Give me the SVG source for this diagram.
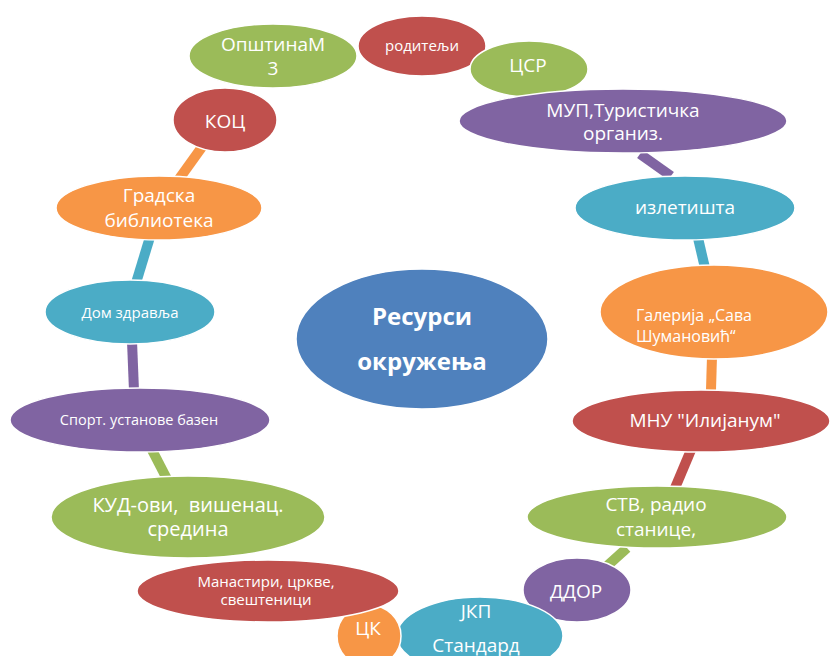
<svg xmlns="http://www.w3.org/2000/svg" width="830" height="656" viewBox="0 0 830 656">
<style>
.n ellipse{stroke:#fff;stroke-width:1.5}
.g{fill:#9BBB59}.r{fill:#C0504D}.c{fill:#4BACC6}.o{fill:#F79646}.p{fill:#8064A2}.b{fill:#4F81BD}
text{font-family:"Open Sans","Noto Sans",sans-serif;fill:#fff;text-anchor:middle}
.l{font-size:19px}.s{font-size:15px}.h{font-size:24px;font-weight:bold}
#connectors line{stroke-width:10;stroke-linecap:butt}
</style>
<rect width="830" height="656" fill="#fff"/>
<g id="connectors">
<line x1="640" y1="154" x2="671" y2="176" stroke="#8064A2"/>
<line x1="698" y1="238" x2="705" y2="268" stroke="#4BACC6"/>
<line x1="712" y1="356" x2="711" y2="390" stroke="#F79646"/>
<line x1="691" y1="450" x2="675" y2="488" stroke="#C0504D"/>
<line x1="627" y1="548" x2="607" y2="566" stroke="#9BBB59"/>
<line x1="152" y1="450" x2="167" y2="479" stroke="#9BBB59"/>
<line x1="132" y1="341" x2="134" y2="391" stroke="#8064A2"/>
<line x1="150" y1="237" x2="136" y2="283" stroke="#4BACC6"/>
<line x1="202" y1="147" x2="179" y2="179" stroke="#F79646"/>
</g>
<g id="n1" class="n"><ellipse class="g" cx="273" cy="56" rx="84" ry="32"/><text class="l" x="273" y="51">ОпштинаМ</text><text class="l" x="273" y="75">3</text></g>
<g id="n2" class="n"><ellipse class="r" cx="422" cy="46" rx="64" ry="30"/><text class="s" x="422" y="51">родитељи</text></g>
<g id="n3" class="n"><ellipse class="g" cx="529" cy="69" rx="59" ry="28"/><text class="l" x="528" y="72">ЦСР</text></g>
<g id="n4" class="n"><ellipse class="p" cx="623" cy="121" rx="164" ry="32"/><text class="l" x="623" y="117">МУП,Туристичка</text><text class="l" x="623" y="140">организ.</text></g>
<g id="n5" class="n"><ellipse class="c" cx="685" cy="208" rx="110" ry="32"/><text class="l" x="685" y="214">излетишта</text></g>
<g id="n6" class="n"><ellipse class="o" cx="714" cy="312" rx="114" ry="47"/><text class="s" x="636" y="321" style="text-anchor:start;font-size:16px">Галерија „Сава</text><text class="s" x="636" y="342" style="text-anchor:start;font-size:16px">Шумановић“</text></g>
<g id="n7" class="n"><ellipse class="r" cx="701" cy="421" rx="129" ry="31"/><text class="l" x="705" y="427">МНУ "Илијанум"</text></g>
<g id="n8" class="n"><ellipse class="g" cx="657" cy="517" rx="130" ry="31"/><text class="l" x="656" y="511">СТВ, радио</text><text class="l" x="656" y="536">станице,</text></g>
<g id="n9" class="n"><ellipse class="p" cx="577" cy="590" rx="54" ry="32"/><text class="l" x="576" y="598">ДДОР</text></g>
<g id="n10" class="n"><ellipse class="c" cx="480" cy="636" rx="83" ry="39"/><text class="l" x="476" y="618">ЈКП</text><text class="l" x="476" y="652">Стандард</text></g>
<g id="n11" class="n"><ellipse class="o" cx="369" cy="636" rx="32" ry="31"/><text class="l" x="368" y="635">ЦК</text></g>
<g id="n12" class="n"><ellipse class="r" cx="268" cy="591" rx="131" ry="31"/><text class="s" x="266" y="587">Манастири, цркве,</text><text class="s" x="266" y="605">свештеници</text></g>
<g id="n13" class="n"><ellipse class="g" cx="188" cy="517" rx="137" ry="41"/><text class="l" x="188" y="512" xml:space="preserve" style="font-size:20px">КУД-ови,  вишенац.</text><text class="l" x="188" y="536" style="font-size:20px">средина</text></g>
<g id="n14" class="n"><ellipse class="p" cx="140" cy="420" rx="130" ry="32"/><text class="s" x="139" y="425" style="font-size:14.5px">Спорт. установе базен</text></g>
<g id="n15" class="n"><ellipse class="c" cx="130" cy="312" rx="85" ry="32"/><text class="s" x="130" y="318">Дом здравља</text></g>
<g id="n16" class="n"><ellipse class="o" cx="159" cy="208" rx="103" ry="32"/><text class="l" x="159" y="202">Градска</text><text class="l" x="159" y="227">библиотека</text></g>
<g id="n17" class="n"><ellipse class="r" cx="225" cy="120" rx="52" ry="32"/><text class="l" x="225" y="128">КОЦ</text></g>
<g id="center" class="n"><ellipse class="b" cx="422" cy="339" rx="126" ry="70"/><text class="h" x="422" y="325">Ресурси</text><text class="h" x="422" y="370">окружења</text></g>
</svg>
